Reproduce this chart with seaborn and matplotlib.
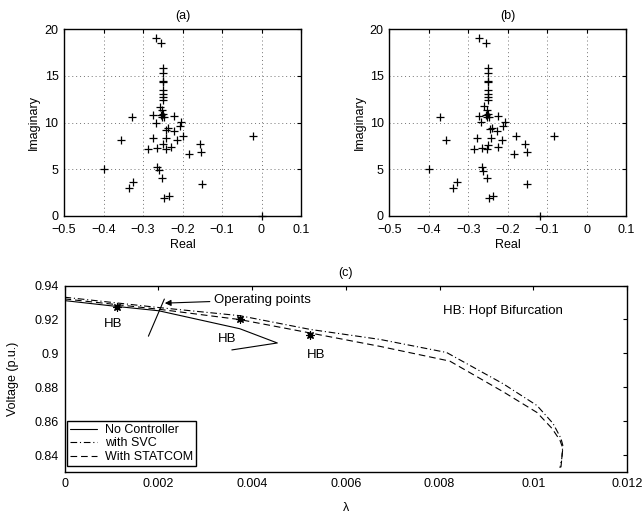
import numpy as np
import pandas as pd
import matplotlib
matplotlib.use("Agg")
import matplotlib.pyplot as plt
import seaborn as sns

# ---------------- data ----------------
# panel (a) eigenvalues
a_real = [-0.267, -0.254, -0.249, -0.249, -0.249, -0.249, -0.249, -0.249, -0.249, -0.249,
          -0.257, -0.253, -0.250, -0.252, -0.247, -0.255, -0.275, -0.329, -0.222, -0.267,
          -0.204, -0.206, -0.243, -0.236, -0.222, -0.198, -0.021, -0.355, -0.275, -0.242,
          -0.213, -0.156, -0.249, -0.287, -0.265, -0.243, -0.230, -0.153, -0.184, -0.398,
          -0.265, -0.260, -0.251, -0.151, -0.326, -0.335, -0.234, -0.246, 0.0]
a_imag = [19.07, 18.5, 15.8, 15.26, 14.4, 14.3, 13.5, 13.1, 12.75, 12.4,
          11.7, 11.3, 10.9, 10.6, 10.55, 10.75, 10.75, 10.55, 10.7, 10.0,
          10.05, 9.66, 9.2, 9.4, 9.1, 8.6, 8.56, 8.1, 8.3, 8.3,
          8.1, 7.7, 7.65, 7.17, 7.24, 7.13, 7.35, 6.88, 6.63, 5.03,
          5.27, 4.92, 4.03, 3.39, 3.67, 2.96, 2.17, 1.89, 0.0]

# panel (b) eigenvalues
b_real = [-0.272, -0.256, -0.249, -0.249, -0.249, -0.249, -0.249, -0.249, -0.249, -0.249,
          -0.259, -0.253, -0.250, -0.252, -0.247, -0.255, -0.272, -0.372, -0.224, -0.268,
          -0.207, -0.211, -0.244, -0.240, -0.228, -0.180, -0.083, -0.356, -0.277, -0.243,
          -0.215, -0.155, -0.249, -0.286, -0.266, -0.253, -0.224, -0.152, -0.184, -0.399,
          -0.266, -0.262, -0.252, -0.151, -0.328, -0.338, -0.238, -0.247, -0.118]
b_imag = [19.07, 18.47, 15.8, 15.26, 14.4, 14.3, 13.5, 13.1, 12.75, 12.4,
          11.8, 11.3, 10.9, 10.6, 10.55, 10.75, 10.7, 10.6, 10.65, 10.1,
          10.1, 9.66, 9.3, 9.45, 9.1, 8.6, 8.56, 8.1, 8.3, 8.3,
          8.1, 7.65, 7.6, 7.17, 7.24, 7.13, 7.35, 6.88, 6.63, 5.03,
          5.27, 4.8, 4.03, 3.39, 3.67, 2.96, 2.17, 1.89, 0.0]

# panel (c) PV curves
lam_none = [0.0, 0.00113, 0.00201, 0.00374, 0.00454, 0.00357]
v_none = [0.9311, 0.9276, 0.9251, 0.9145, 0.9061, 0.9020]

lam_svc = [0.0, 0.00201, 0.00374, 0.00524, 0.00673, 0.00815, 0.00936, 0.01008,
           0.01042, 0.01059, 0.01063, 0.01061, 0.01057]
v_svc = [0.9331, 0.9270, 0.9222, 0.9141, 0.9082, 0.9005, 0.8820, 0.8692,
         0.8587, 0.8499, 0.8458, 0.8383, 0.8324]

lam_statcom = [0.0, 0.00201, 0.00374, 0.00524, 0.00673, 0.00822, 0.00936, 0.01008,
               0.01040, 0.01057, 0.01063, 0.01061, 0.01059]
v_statcom = [0.9321, 0.9260, 0.9199, 0.9120, 0.9041, 0.8954, 0.8773, 0.8651,
             0.8557, 0.8487, 0.8441, 0.8383, 0.8324]

hb_lam = [0.00113, 0.00375, 0.00524]
hb_v = [0.9276, 0.9202, 0.9107]

op_lam = [0.00213, 0.00179]
op_v = [0.9320, 0.9101]

x_ticks_ab = [-0.5, -0.4, -0.3, -0.2, -0.1, 0, 0.1]
x_ticklabels_ab = ["\u22120.5", "\u22120.4", "\u22120.3", "\u22120.2", "\u22120.1", "0", "0.1"]
y_ticks_ab = [0, 5, 10, 15, 20]
x_ticks_c = [0, 0.002, 0.004, 0.006, 0.008, 0.01, 0.012]
x_ticklabels_c = ["0", "0.002", "0.004", "0.006", "0.008", "0.01", "0.012"]
y_ticks_c = [0.84, 0.86, 0.88, 0.9, 0.92, 0.94]
y_ticklabels_c = ["0.84", "0.86", "0.88", "0.9", "0.92", "0.94"]

# ---------------- style ----------------
sns.set_theme(style="white")
plt.rcParams.update({
    "font.family": ["Liberation Sans", "DejaVu Sans"],
    "font.size": 9,
    "axes.edgecolor": "black",
    "axes.linewidth": 1.0,
    "xtick.direction": "in",
    "ytick.direction": "in",
    "xtick.top": True,
    "ytick.right": True,
    "xtick.major.size": 3,
    "ytick.major.size": 3,
    "xtick.major.width": 0.8,
    "ytick.major.width": 0.8,
    "xtick.color": "black",
    "ytick.color": "black",
    "xtick.labelsize": 9,
    "ytick.labelsize": 9,
    "xtick.major.pad": 4,
    "ytick.major.pad": 4,
    "axes.labelcolor": "black",
    "text.color": "black",
})

fig = plt.figure(figsize=(6.42, 5.18), dpi=100)
ax_a = fig.add_axes([64 / 642, 1 - 216 / 518, 237 / 642, 187 / 518])
ax_b = fig.add_axes([389.3 / 642, 1 - 216 / 518, 236.7 / 642, 187 / 518])
ax_c = fig.add_axes([64.5 / 642, 1 - 472 / 518, 562.5 / 642, 186.5 / 518])

for ax, xr, yi, title in [(ax_a, a_real, a_imag, "(a)"), (ax_b, b_real, b_imag, "(b)")]:
    sns.scatterplot(x=xr, y=yi, marker="+", s=30, color="black", linewidth=0.9,
                    ax=ax, clip_on=False, zorder=3, legend=False)
    ax.set_xlim(-0.5, 0.1)
    ax.set_ylim(0, 20)
    ax.set_xticks(x_ticks_ab)
    ax.set_xticklabels(x_ticklabels_ab)
    ax.set_yticks(y_ticks_ab)
    ax.tick_params(axis="x", pad=6)
    ax.grid(True, linestyle=(0, (1, 3)), color="0.45", linewidth=0.7, zorder=0)
    ax.set_axisbelow(True)
    ax.set_xlabel("Real", fontsize=9, labelpad=2)
    ax.set_ylabel("Imaginary", fontsize=9, labelpad=3)
    ax.set_title(title, fontsize=9, pad=7)

# panel (c)
sns.lineplot(x=lam_none, y=v_none, sort=False, estimator=None, color="black",
             linewidth=0.8, linestyle="-", label="No Controller", ax=ax_c)
sns.lineplot(x=lam_svc, y=v_svc, sort=False, estimator=None, color="black",
             linewidth=0.8, linestyle=(0, (6, 2.5, 1, 2.5)), label="with SVC", ax=ax_c)
sns.lineplot(x=lam_statcom, y=v_statcom, sort=False, estimator=None, color="black",
             linewidth=0.8, linestyle=(0, (6, 3.5)), label="With STATCOM", ax=ax_c)
sns.scatterplot(x=hb_lam, y=hb_v, marker=(8, 2, 0), s=28, color="black",
                linewidth=0.9, ax=ax_c, zorder=4, legend=False)
ax_c.plot(op_lam, op_v, color="black", linewidth=0.8)

ax_c.annotate("Operating points", xy=(0.00214, 0.9296), xytext=(0.0032, 0.9316),
              va="center", ha="left", fontsize=9.5,
              arrowprops=dict(arrowstyle="-|>", color="black", lw=0.8,
                              shrinkA=1, shrinkB=0, mutation_scale=9))
ax_c.text(0.00104, 0.9175, "HB", ha="center", va="center", fontsize=9.5)
ax_c.text(0.00346, 0.9086, "HB", ha="center", va="center", fontsize=9.5)
ax_c.text(0.00536, 0.8989, "HB", ha="center", va="center", fontsize=9.5)
ax_c.text(0.00936, 0.9247, "HB: Hopf Bifurcation", ha="center", va="center", fontsize=9.5)

ax_c.set_xlim(0, 0.012)
ax_c.set_ylim(0.83, 0.94)
ax_c.set_xticks(x_ticks_c)
ax_c.set_xticklabels(x_ticklabels_c)
ax_c.set_yticks(y_ticks_c)
ax_c.set_yticklabels(y_ticklabels_c)
ax_c.set_xlabel("\u03bb", fontsize=9, labelpad=9)
ax_c.set_ylabel("Voltage (p.u.)", fontsize=9, labelpad=11)
ax_c.set_title("(c)", fontsize=9, pad=7)

leg = ax_c.legend(loc="lower left", bbox_to_anchor=(0.004, 0.032), borderaxespad=0,
                  frameon=True, fancybox=False, edgecolor="black", framealpha=1,
                  fontsize=9, handlelength=2.2, labelspacing=0.12, borderpad=0.25,
                  handletextpad=0.6)
leg.get_frame().set_linewidth(1.0)

fig.savefig("out.png", dpi=100)
